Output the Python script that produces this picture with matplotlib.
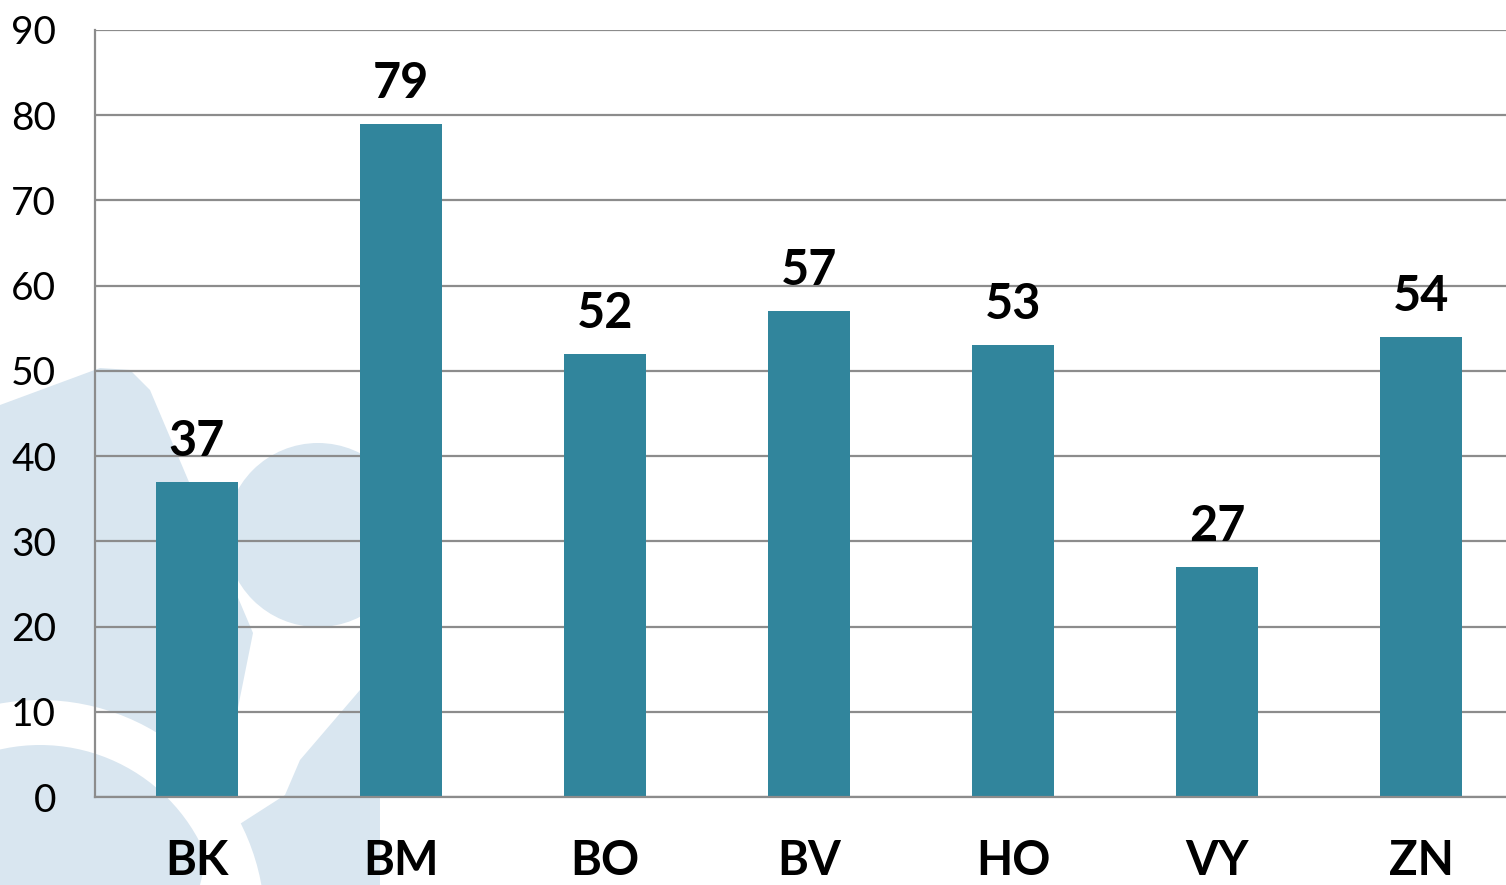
import matplotlib
matplotlib.use("Agg")
import matplotlib.pyplot as plt
from matplotlib.patches import Polygon, Circle, Wedge

categories = ["BK", "BM", "BO", "BV", "HO", "VY", "ZN"]
values = [37, 79, 52, 57, 53, 27, 54]
yticks = [0, 10, 20, 30, 40, 50, 60, 70, 80, 90]

plt.rcParams['font.family'] = ['Lato', 'DejaVu Sans']

W, H = 1506, 885
fig = plt.figure(figsize=(W / 100, H / 100), dpi=100)
fig.patch.set_facecolor("white")

# background watermark (decorative, pixel coordinates)
bg = fig.add_axes([0, 0, 1, 1], zorder=0)
bg.set_xlim(0, W)
bg.set_ylim(H, 0)
bg.axis("off")
wm = "#d9e6f0"
bg.add_patch(Polygon([(0, 405), (100, 368), (130, 370), (150, 390), (253, 633),
                      (213, 832), (200, 885), (0, 885)], closed=True,
                     facecolor=wm, edgecolor="none"))
bg.add_patch(Circle((318, 535), 92, facecolor=wm, edgecolor="none"))
bg.add_patch(Polygon([(360, 690), (380, 690), (380, 885), (230, 885), (218, 838),
                      (285, 795), (300, 760)], closed=True,
                     facecolor=wm, edgecolor="none"))
bg.add_patch(Wedge((40, 925), 225, 180, 360, width=45, facecolor="white",
                   edgecolor="none"))

ax = fig.add_axes([95 / W, (H - 797) / H, (1523 - 95) / W, (797 - 30) / H], zorder=1)
ax.set_facecolor("none")

x = list(range(len(categories)))
ax.bar(x, values, width=0.40, color="#31859c", zorder=3)

ax.set_xlim(-0.5, len(categories) - 0.5)
ax.set_ylim(0, 90)
ax.set_yticks(yticks)
ax.set_yticklabels([str(t) for t in yticks], fontsize=28)
ax.set_xticks(x)
ax.set_xticklabels(categories, fontsize=34, fontweight="bold")
ax.tick_params(axis="y", length=0, pad=28, colors="black")
ax.tick_params(axis="x", length=0, pad=30, colors="black")

ax.grid(axis="y", color="#8c8c8c", linewidth=1.6, zorder=1)
ax.set_axisbelow(True)
for s in ["top", "right"]:
    ax.spines[s].set_visible(False)
for s in ["left", "bottom"]:
    ax.spines[s].set_color("#8c8c8c")
    ax.spines[s].set_linewidth(1.6)
    ax.spines[s].set_zorder(4)

for xi, v in zip(x, values):
    ax.annotate(str(v), (xi, v), xytext=(0, 13), textcoords="offset points",
                ha="center", va="bottom", fontsize=35, fontweight="bold")

fig.savefig("out.png", dpi=100)
